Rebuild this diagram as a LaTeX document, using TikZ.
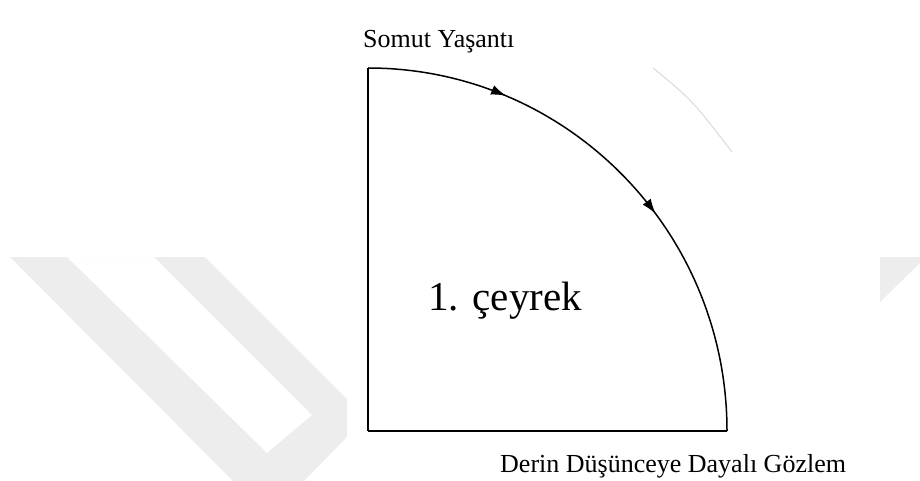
\documentclass[tikz,border=0pt]{standalone}
\usepackage{fontspec}
\setmainfont{Liberation Serif}
\usetikzlibrary{positioning,arrows.meta,decorations.markings}
\definecolor{wmgray}{RGB}{237,237,237}

\begin{document}
\begin{tikzpicture}[
x=1pt, y=-1pt,
lbl/.style={inner sep=0pt, anchor=base west, font=\fontsize{26}{30}\selectfont},
big/.style={inner sep=0pt, anchor=base west, font=\fontsize{41}{46}\selectfont},
edge/.style={line width=1.5pt},
quarter/.style={line width=1.5pt, postaction={decorate}, decoration={markings,
  mark=at position 0.25 with {\arrow{Latex[length=15pt,width=10pt]}},
  mark=at position 0.59 with {\arrow{Latex[length=15pt,width=10pt]}}}}
]
\useasboundingbox (0,0) rectangle (920,481);
% watermark
\fill[wmgray, even odd rule] (10,257) -- (205,257) -- (347,399) -- (347,437) -- (304,481) -- (233,481) -- cycle
  (67,257) -- (154,257) -- (312,415) -- (267,453) -- cycle;
\fill[wmgray] (880,257) -- (920,257) -- (920,263) -- (880,302) -- cycle;
\draw[gray!30, line width=1pt] (653,68) .. controls (692,100) .. (732,152);
% quarter
\coordinate (top) at (368,68);
\coordinate (corner) at (368,431);
\coordinate (right) at (727,431);
\draw[edge] (top) -- (corner);
\draw[edge, line width=2pt] (corner) -- (right);
\draw[quarter] (top) arc[start angle=-90, end angle=0, x radius=359, y radius=363];
% labels
\node[lbl] (somut) at (363,48) {Somut Yaşantı};
\node[big] (ceyrek) at (428,310) {1. çeyrek};
\node[lbl] (derin) at (500,472) {Derin Düşünceye Dayalı Gözlem};
\end{tikzpicture}
\end{document}
